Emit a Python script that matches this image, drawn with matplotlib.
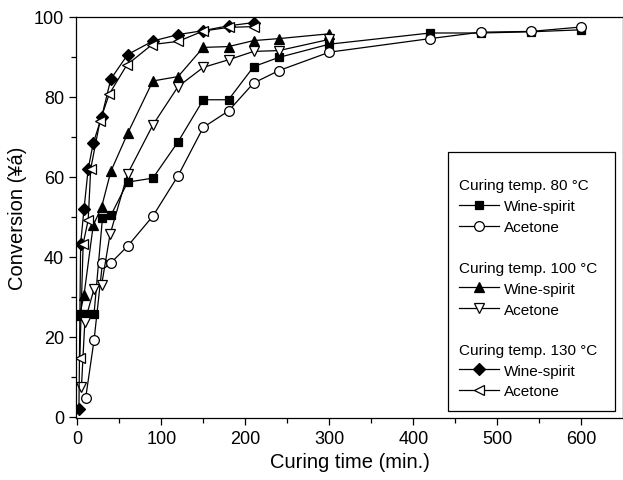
import numpy as np
import matplotlib
matplotlib.use("Agg")
import matplotlib.pyplot as plt
from matplotlib.patches import Rectangle
from matplotlib.legend import Legend
from matplotlib.ticker import MultipleLocator

plt.rcParams['font.family'] = ['Liberation Sans', 'DejaVu Sans']

# 80 C
t80_ws = [3, 10, 20, 30, 40, 60, 90, 120, 150, 180, 210, 240, 300, 420, 480, 540, 600]
c80_ws = [25.8, 25.8, 25.8, 49.7, 50.4, 58.7, 59.7, 68.8, 79.3, 79.3, 87.6, 89.9, 93.2, 96.0, 96.0, 96.3, 96.8]
t80_ac = [10, 20, 30, 40, 60, 90, 120, 150, 180, 210, 240, 300, 420, 480, 540, 600]
c80_ac = [4.7, 19.2, 38.5, 38.5, 42.7, 50.2, 60.3, 72.4, 76.5, 83.5, 86.6, 91.2, 94.6, 96.2, 96.4, 97.5]

# 100 C
t100_ws = [3, 8, 19, 29, 40, 60, 90, 120, 150, 180, 210, 240, 300]
c100_ws = [25.5, 30.4, 47.9, 52.5, 61.4, 70.9, 84.0, 85.1, 92.4, 92.6, 94.1, 94.6, 95.8]
t100_ac = [5, 9, 20, 29, 39, 60, 90, 120, 150, 180, 210, 240, 300]
c100_ac = [7.5, 23.8, 32.0, 33.0, 45.6, 60.8, 73.0, 82.6, 87.4, 89.3, 91.4, 91.6, 94.4]

# 130 C
t130_ws = [2, 4, 8, 13, 19, 29, 40, 60, 90, 120, 150, 180, 210]
c130_ws = [1.9, 43.3, 51.9, 62.0, 68.4, 75.0, 84.5, 90.6, 94.0, 95.6, 96.6, 97.8, 98.6]
t130_ac = [3, 7, 13, 16, 27, 38, 59, 89, 120, 150, 180, 210]
c130_ac = [14.6, 43.3, 49.2, 62.0, 73.9, 80.7, 88.0, 93.1, 93.9, 96.5, 97.4, 97.6]

groups = ["Curing temp. 80 °C", "Curing temp. 100 °C", "Curing temp. 130 °C"]
series_names = ["Wine-spirit", "Acetone"]

fig = plt.figure(figsize=(6.23, 4.81), dpi=100)
ax = fig.add_axes([76 / 623, 1 - 419 / 481, 547 / 623, 401 / 481])

kw = dict(color='black', lw=0.9, markeredgecolor='black', markeredgewidth=0.9)
h80w, = ax.plot(t80_ws, c80_ws, marker='s', ms=6, markerfacecolor='black', **kw)
h80a, = ax.plot(t80_ac, c80_ac, marker='o', ms=7, markerfacecolor='white', **kw)
h100w, = ax.plot(t100_ws, c100_ws, marker='^', ms=7.5, markerfacecolor='black', **kw)
h100a, = ax.plot(t100_ac, c100_ac, marker='v', ms=7.5, markerfacecolor='white', **kw)
h130w, = ax.plot(t130_ws, c130_ws, marker='D', ms=6, markerfacecolor='black', **kw)
h130a, = ax.plot(t130_ac, c130_ac, marker='<', ms=7.5, markerfacecolor='white', **kw)

ax.set_xlim(-1.5, 649.5)
ax.set_ylim(-0.3, 100)
ax.xaxis.set_major_locator(MultipleLocator(100))
ax.xaxis.set_minor_locator(MultipleLocator(50))
ax.yaxis.set_major_locator(MultipleLocator(20))
ax.yaxis.set_minor_locator(MultipleLocator(10))
ax.tick_params(which='both', direction='out', top=False, right=False, labelsize=13, width=0.9)
ax.tick_params(which='major', length=5)
ax.tick_params(which='minor', length=3.5)
for s in ax.spines.values():
    s.set_linewidth(0.9)

ax.set_xlabel("Curing time (min.)", fontsize=14.5, labelpad=4)
ax.set_ylabel("Conversion (¥á)", fontsize=14.5, labelpad=5)

# legend: one block per temperature, framed together
handles = [(h80w, h80a), (h100w, h100a), (h130w, h130a)]
tops = [0.598, 0.392, 0.188]
for i, (title, hs) in enumerate(zip(groups, handles)):
    leg = Legend(ax, hs, series_names, title=title, loc='upper left',
                 bbox_to_anchor=(0.700, tops[i]), frameon=False, fontsize=11,
                 title_fontsize=11, alignment='left', borderpad=0,
                 handlelength=2.65, handletextpad=0.3, labelspacing=0.45,
                 borderaxespad=0)
    leg._legend_box.sep = 5
    ax.add_artist(leg)

ax.add_patch(Rectangle((0.680, 0.0175), 0.305, 0.6455, transform=ax.transAxes,
                       fill=False, lw=0.9, edgecolor='black', zorder=5))

fig.savefig("out.png", dpi=100)
